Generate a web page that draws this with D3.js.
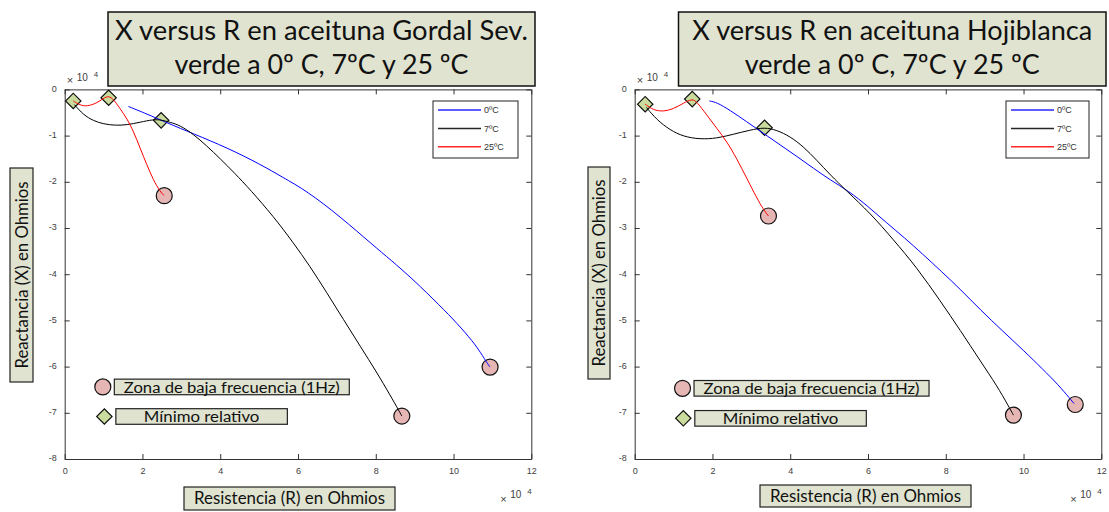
<!DOCTYPE html>
<html>
<head>
<meta charset="utf-8">
<script src="https://cdn.jsdelivr.net/npm/d3@7"></script>
<style>
  body { margin: 0; background: #fff; }
</style>
</head>
<body>
<div id="chart"></div>
<script>
// R and X values are in units of 10^4 ohms (the axes carry the x10^4 multiplier)
const xTicks = [0, 2, 4, 6, 8, 10, 12];
const yTicks = [0, -1, -2, -3, -4, -5, -6, -7, -8];
const legendLabels = ["0ºC", "7ºC", "25ºC"];
const keyLabels = ["Zona de baja frecuencia (1Hz)", "Mínimo relativo"];
const xLabel = "Resistencia (R) en Ohmios";
const yLabel = "Reactancia (X) en Ohmios";

const gordalTitle = ["X versus R en aceituna Gordal Sev.", "verde a 0º C, 7ºC y 25 ºC"];
const hojiTitle = ["X versus R en aceituna Hojiblanca", "verde a 0º C, 7ºC y 25 ºC"];

// Gordal Sevillana
const gordal0C = [[1.64,-0.37],[2.11,-0.53],[2.62,-0.72],[3.31,-0.96],[4.17,-1.26],[5.03,-1.62],
  [5.60,-1.90],[6.23,-2.20],[7.08,-2.75],[7.94,-3.38],[8.37,-3.68],[8.97,-4.12],[9.66,-4.69],
  [10.09,-5.06],[10.51,-5.47],[10.69,-5.69],[10.90,-5.97],[10.94,-6.01]];
const gordal7C = [[0.25,-0.33],[0.48,-0.55],[0.74,-0.68],[1.00,-0.75],[1.30,-0.78],[1.60,-0.77],
  [1.94,-0.71],[2.28,-0.65],[2.48,-0.66],[2.71,-0.71],[2.97,-0.78],[3.31,-0.97],[3.65,-1.22],
  [4.00,-1.50],[4.38,-1.82],[4.77,-2.17],[5.37,-2.75],[5.88,-3.32],[6.31,-3.83],[6.74,-4.40],
  [7.17,-4.98],[7.60,-5.56],[8.03,-6.13],[8.37,-6.62],[8.60,-6.96],[8.67,-7.07]];
const gordal25C = [[0.22,-0.25],[0.39,-0.34],[0.57,-0.37],[0.82,-0.30],[1.00,-0.19],[1.13,-0.14],
  [1.25,-0.21],[1.42,-0.41],[1.60,-0.63],[1.77,-0.91],[1.94,-1.27],[2.11,-1.63],[2.28,-1.96],
  [2.45,-2.21],[2.56,-2.30]];
const gordalMinimos = [[0.22,-0.25],[1.13,-0.18],[2.48,-0.67]];
const gordalBajaFrec = [[2.56,-2.30],[8.67,-7.07],[10.94,-6.01]];

// Hojiblanca
const hoji0C = [[1.92,-0.25],[2.11,-0.28],[2.45,-0.45],[2.88,-0.70],[3.31,-0.95],[3.74,-1.20],
  [4.17,-1.45],[4.60,-1.71],[5.03,-1.96],[5.50,-2.20],[6.00,-2.53],[6.48,-2.89],[6.95,-3.22],
  [7.40,-3.56],[7.90,-3.95],[8.38,-4.33],[8.90,-4.78],[9.45,-5.22],[10.00,-5.65],[10.50,-6.06],
  [10.90,-6.40],[11.20,-6.70],[11.30,-6.80]];
const hoji7C = [[0.30,-0.39],[0.57,-0.66],[0.91,-0.88],[1.25,-1.02],[1.68,-1.08],[2.11,-1.06],
  [2.54,-0.97],[2.97,-0.88],[3.34,-0.82],[3.65,-0.88],[4.00,-1.02],[4.34,-1.24],[4.68,-1.53],
  [5.03,-1.85],[5.45,-2.20],[6.06,-2.68],[6.65,-3.25],[7.26,-3.86],[7.86,-4.58],[8.37,-5.21],
  [8.89,-5.88],[9.32,-6.42],[9.61,-6.85],[9.74,-7.05]];
const hoji25C = [[0.27,-0.32],[0.48,-0.45],[0.74,-0.48],[1.00,-0.42],[1.25,-0.30],[1.48,-0.20],
  [1.60,-0.27],[1.85,-0.55],[2.11,-0.84],[2.37,-1.13],[2.62,-1.49],[2.88,-1.92],[3.14,-2.35],
  [3.31,-2.60],[3.44,-2.74]];
const hojiMinimos = [[0.27,-0.32],[1.48,-0.21],[3.34,-0.83]];
const hojiBajaFrec = [[3.44,-2.74],[9.74,-7.05],[11.33,-6.82]];

const lineColors = ["#0000ff", "#000000", "#ff0000"];
const calibri = "Lato, 'Open Sans', sans-serif";
const arial = "'Liberation Sans', Arial, sans-serif";
const boxFill = "#dfe3d0";

const svg = d3.select("#chart").append("svg")
  .attr("width", 1109)
  .attr("height", 512);

function fit(sel, w) {
  sel.attr("textLength", w).attr("lengthAdjust", "spacingAndGlyphs");
}

function drawPanel(p) {
  const g = svg.append("g");

  const x = d3.scaleLinear().domain([0, 12]).range([p.left, p.right]);
  const y = d3.scaleLinear().domain([-8, 0]).range([459, 89.4]);

  // axes, ticks pointing inward on all four sides
  const fmt = d => String(d);
  const styleAxis = (a, dy) => {
    a.select(".domain").attr("stroke", "#333");
    a.selectAll(".tick line").attr("stroke", "#333");
    a.selectAll(".tick text").attr("fill", "#404040").attr("dy", dy)
      .style("font-family", arial).style("font-size", "9px");
  };
  g.append("g").attr("transform", `translate(0,${y(-8)})`)
    .call(d3.axisBottom(x).tickValues(xTicks).tickFormat(fmt).tickSize(-5).tickSizeOuter(0).tickPadding(9))
    .call(styleAxis, "0.71em");
  g.append("g").attr("transform", `translate(${x(0)},0)`)
    .call(d3.axisLeft(y).tickValues(yTicks).tickFormat(fmt).tickSize(-5).tickSizeOuter(0).tickPadding(8))
    .call(styleAxis, "0.2em");
  g.append("g").attr("transform", `translate(0,${y(0)})`)
    .call(d3.axisTop(x).tickValues(xTicks).tickFormat("").tickSize(-5).tickSizeOuter(0))
    .call(styleAxis, null);
  g.append("g").attr("transform", `translate(${x(12)},0)`)
    .call(d3.axisRight(y).tickValues(yTicks).tickFormat("").tickSize(-5).tickSizeOuter(0))
    .call(styleAxis, null);

  // x10^4 multipliers
  const mult = (mx, my, up) => {
    const t = g.append("g").attr("fill", "#404040").style("font-family", arial);
    t.append("text").attr("x", mx).attr("y", my + up).style("font-size", "11px").text("×");
    t.append("text").attr("x", mx + 10).attr("y", my).style("font-size", "10px").text("10");
    t.append("text").attr("x", mx + 27).attr("y", my - 4).style("font-size", "8px").text("4");
  };
  mult(x(0) + 2, 81, 3);
  mult(x(12) - 31, 498, 5);

  // markers first, curves drawn over them
  const diamond = d3.symbol().type(d3.symbolSquare).size(118);
  g.selectAll(".minimo").data(p.minimos).join("path")
    .attr("transform", d => `translate(${x(d[0])},${y(d[1])}) rotate(45)`)
    .attr("d", diamond)
    .attr("fill", "#c9dc9e").attr("stroke", "#111").attr("stroke-width", 1.2);
  g.selectAll(".bajafrec").data(p.bajaFrec).join("circle")
    .attr("cx", d => x(d[0])).attr("cy", d => y(d[1])).attr("r", 8)
    .attr("fill", "#e6b6b5").attr("stroke", "#111").attr("stroke-width", 1.2);

  const line = d3.line()
    .x(d => x(d[0])).y(d => y(d[1]))
    .curve(d3.curveBasis);
  g.selectAll(".curve").data(p.series).join("path")
    .attr("d", line)
    .attr("fill", "none")
    .attr("stroke", (d, i) => lineColors[i])
    .attr("stroke-width", 1);

  // legend
  const [lx0, ly0, lx1, ly1] = p.legend;
  g.append("rect").attr("x", lx0).attr("y", ly0).attr("width", lx1 - lx0).attr("height", ly1 - ly0)
    .attr("fill", "#fff").attr("stroke", "#222").attr("stroke-width", 1);
  legendLabels.forEach((lab, i) => {
    const ly = ly0 + 9 + i * 18.4;
    g.append("line").attr("x1", lx0 + 5).attr("x2", lx0 + 48).attr("y1", ly).attr("y2", ly)
      .attr("stroke", lineColors[i]).attr("stroke-width", 1.5).attr("stroke-opacity", 0.85);
    g.append("text").attr("x", lx0 + 51).attr("y", ly + 3.3)
      .attr("fill", "#333").style("font-family", arial).style("font-size", "9px").text(lab);
  });

  // key for the markers
  const kc = [x(p.keyCircle[0]), y(p.keyCircle[1])];
  const kd = [x(p.keyDiamond[0]), y(p.keyDiamond[1])];
  g.append("circle").attr("cx", kc[0]).attr("cy", kc[1]).attr("r", 8)
    .attr("fill", "#e6b6b5").attr("stroke", "#111").attr("stroke-width", 1.2);
  g.append("path").attr("transform", `translate(${kd[0]},${kd[1]}) rotate(45)`).attr("d", diamond)
    .attr("fill", "#c9dc9e").attr("stroke", "#111").attr("stroke-width", 1.2);
  [[kc, 235, 216], [kd, 171.5, 115.6]].forEach(([k, bw, tw], i) => {
    const bx = k[0] + 11.5;
    g.append("rect").attr("x", bx).attr("y", k[1] - 7.8).attr("width", bw).attr("height", 15.6)
      .attr("fill", boxFill).attr("stroke", "#222").attr("stroke-width", 1.2);
    g.append("text").attr("x", bx + bw / 2).attr("y", k[1] + 5.6)
      .attr("text-anchor", "middle").attr("fill", "#111")
      .style("font-family", calibri).style("font-size", "15.5px")
      .text(keyLabels[i]).call(fit, tw);
  });

  // title box
  const [tx0, ty0, tx1, ty1] = p.titleBox;
  g.append("rect").attr("x", tx0).attr("y", ty0).attr("width", tx1 - tx0).attr("height", ty1 - ty0)
    .attr("fill", boxFill).attr("stroke", "#111").attr("stroke-width", 1.5);
  p.title.forEach((t, i) => {
    g.append("text").attr("x", (tx0 + tx1) / 2).attr("y", 40 + i * 34)
      .attr("text-anchor", "middle").attr("fill", "#111")
      .style("font-family", calibri).style("font-size", "27px")
      .text(t).call(fit, p.titleWidths[i]);
  });

  // axis label boxes
  const [xb0, xby0, xb1, xby1] = p.xLabBox;
  g.append("rect").attr("x", xb0).attr("y", xby0).attr("width", xb1 - xb0).attr("height", xby1 - xby0)
    .attr("fill", boxFill).attr("stroke", "#222").attr("stroke-width", 1.2);
  g.append("text").attr("x", (xb0 + xb1) / 2).attr("y", p.xLabBaseline)
    .attr("text-anchor", "middle").attr("fill", "#111")
    .style("font-family", calibri).style("font-size", "16.5px")
    .text(xLabel).call(fit, 191);

  const [yb0, yby0, yb1, yby1] = p.yLabBox;
  g.append("rect").attr("x", yb0).attr("y", yby0).attr("width", yb1 - yb0).attr("height", yby1 - yby0)
    .attr("fill", boxFill).attr("stroke", "#222").attr("stroke-width", 1.2);
  g.append("text")
    .attr("transform", `translate(${p.yLabBaseline},${(yby0 + yby1) / 2}) rotate(-90)`)
    .attr("text-anchor", "middle").attr("fill", "#111")
    .style("font-family", calibri).style("font-size", "16.5px")
    .text(yLabel).call(fit, 187);
}

const panels = [
  {
    title: gordalTitle, titleWidths: [413, 294],
    series: [gordal0C, gordal7C, gordal25C], minimos: gordalMinimos, bajaFrec: gordalBajaFrec,
    left: 64.7, right: 531.3,
    titleBox: [108, 12, 535, 86],
    xLabBox: [184, 487, 395, 510], xLabBaseline: 504,
    yLabBox: [10, 168, 33, 382], yLabBaseline: 28,
    legend: [433, 101, 518, 158],
    keyCircle: [0.98, -6.44], keyDiamond: [1.02, -7.08]
  },
  {
    title: hojiTitle, titleWidths: [400, 295],
    series: [hoji0C, hoji7C, hoji25C], minimos: hojiMinimos, bajaFrec: hojiBajaFrec,
    left: 634.7, right: 1101.3,
    titleBox: [678.5, 12, 1106, 86],
    xLabBox: [760, 485, 971, 507], xLabBaseline: 502,
    yLabBox: [588, 167, 610, 379], yLabBaseline: 605,
    legend: [1006, 101, 1089, 158],
    keyCircle: [1.23, -6.47], keyDiamond: [1.25, -7.12]
  }
];

panels.forEach(drawPanel);
</script>
</body>
</html>
